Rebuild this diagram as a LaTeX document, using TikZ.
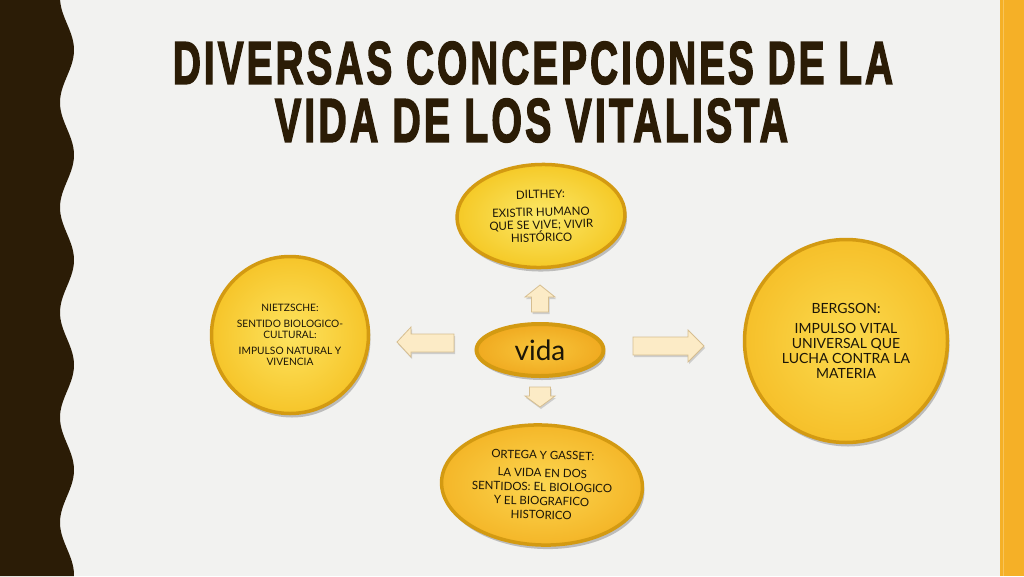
\documentclass[tikz,border=0pt]{standalone}
\usepackage{fontspec}
\setmainfont{Lato}
\newfontfamily\titlefont[LetterSpace=8,BoldFeatures={FakeBold=3}]{Liberation Sans}
\usetikzlibrary{shapes.geometric,shadows}
\definecolor{bg}{HTML}{F2F2F0}
\definecolor{darkbrown}{HTML}{2B1C06}
\definecolor{barorange}{HTML}{F5B027}
\definecolor{barlight}{HTML}{F8C45A}
\definecolor{goldrim}{HTML}{D39A12}
\definecolor{txtcol}{HTML}{1C1608}
\definecolor{arrowfill}{HTML}{FCEBC6}
\definecolor{arrowdraw}{HTML}{D6BE90}
\definecolor{dilin}{HTML}{FBE868}
\definecolor{dilout}{HTML}{F5C926}
\definecolor{niein}{HTML}{FDE35E}
\definecolor{nieout}{HTML}{F6C52A}
\definecolor{berin}{HTML}{FBDA4E}
\definecolor{berout}{HTML}{F6C02A}
\definecolor{ortin}{HTML}{FCD650}
\definecolor{ortout}{HTML}{F4B628}
\definecolor{vidain}{HTML}{F8C63C}
\definecolor{vidaout}{HTML}{F0AA20}
\begin{document}
\begin{tikzpicture}[x=1pt,y=-1pt,
  goldshape/.style n args={2}{inner sep=0pt, draw=goldrim, line width=3.5pt,
    shade, inner color=#1, outer color=#2,
    drop shadow={shadow xshift=2pt, shadow yshift=-4pt, opacity=0.22, fill=black}},
  goldell/.style n args={2}{ellipse, goldshape={#1}{#2}},
  goldcirc/.style n args={2}{circle, goldshape={#1}{#2}},
  bodytxt/.style={inner sep=0pt, align=center, text=txtcol},
  blockarrow/.style={fill=arrowfill, draw=arrowdraw, line width=0.8pt, line join=miter,
    drop shadow={shadow xshift=1pt, shadow yshift=-2pt, opacity=0.15, fill=black}},
  titletxt/.style={inner sep=0pt, text=darkbrown}
]
\useasboundingbox (0,0) rectangle (1024,576);
\fill[bg] (0,0) rectangle (1024,576);
% left wavy strip
\fill[darkbrown] (0,0) -- plot[domain=0:576,samples=200,variable=\t] ({67+7*cos(3.428571*(\t-50))},\t) -- (0,576) -- cycle;
% right orange bar
\fill[barorange] (1000,0) rectangle (1024,576);
\fill[barlight] (1002.5,0) rectangle (1004,576);

% title
\node[titletxt] (t1) at (533,63) {\resizebox{720pt}{42pt}{\titlefont\bfseries DIVERSAS CONCEPCIONES DE LA}};
\node[titletxt] (t2) at (531.5,120.5) {\resizebox{513pt}{43pt}{\titlefont\bfseries VIDA DE LOS VITALISTA}};

% shapes
\node[goldell={dilin}{dilout}, minimum width=168pt, minimum height=103pt, rotate=1.5] (dil) at (541,216) {};
\node[bodytxt, rotate=1.5, font=\fontsize{11.5}{12.8}\selectfont] (diltxt) at (dil.center) {DILTHEY:\\[5pt] EXISTIR HUMANO\\ QUE SE VIVE; VIVIR\\ HISTÓRICO};

\node[goldcirc={niein}{nieout}, minimum size=157pt] (nie) at (290,335) {};
\node[bodytxt, font=\fontsize{10.2}{11.5}\selectfont] (nietxt) at (nie.center) {NIETZSCHE:\\[4pt] SENTIDO BIOLOGICO-\\ CULTURAL:\\[4pt] IMPULSO NATURAL  Y\\ VIVENCIA};

\node[goldcirc={berin}{berout}, minimum size=203pt] (ber) at (846,341) {};
\node[bodytxt, font=\fontsize{14}{15}\selectfont] (bertxt) at (ber.center) {BERGSON:\\[5pt] IMPULSO VITAL\\ UNIVERSAL QUE\\ LUCHA CONTRA LA\\ MATERIA};

\node[goldell={ortin}{ortout}, minimum width=201pt, minimum height=120pt, rotate=-2] (ort) at (542,485) {};
\node[bodytxt, rotate=-1.5, font=\fontsize{11.5}{14}\selectfont] (orttxt) at (ort.center) {ORTEGA Y GASSET:\\[4pt] LA VIDA EN DOS\\ SENTIDOS: EL BIOLOGICO\\ Y EL BIOGRAFICO\\ HISTORICO};

\node[goldell={vidain}{vidaout}, minimum width=127pt, minimum height=52pt, line width=4pt] (vida) at (540,350) {};
\node[bodytxt, font=\fontsize{28}{30}\selectfont] (vidatxt) at (vida.center) {vida};

% block arrows
\draw[blockarrow] (540,285) -- (555,297) -- (548.5,297) -- (548.5,312) -- (531.5,312) -- (531.5,297) -- (525,297) -- cycle;
\draw[blockarrow] (540,407) -- (555,396) -- (550.5,396) -- (550.5,387) -- (529.5,387) -- (529.5,396) -- (525,396) -- cycle;
\draw[blockarrow] (397,342) -- (411,327) -- (411,334) -- (454,334) -- (454,352) -- (411,352) -- (411,357) -- cycle;
\draw[blockarrow] (704,346) -- (688,330) -- (688,337) -- (633,337) -- (633,355) -- (688,355) -- (688,362) -- cycle;
\end{tikzpicture}
\end{document}
